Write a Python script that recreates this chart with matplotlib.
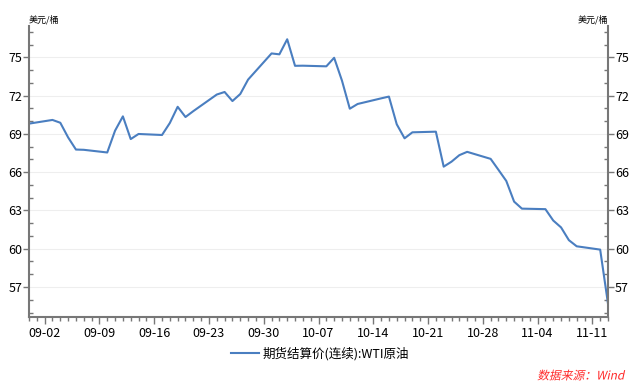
import pandas as pd
import numpy as np
import matplotlib
matplotlib.use("Agg")
import matplotlib.pyplot as plt
import matplotlib.dates as mdates
from matplotlib.patheffects import AbstractPathEffect
from matplotlib.transforms import Affine2D

plt.rcParams['font.family'] = ['Noto Sans CJK SC', 'DejaVu Sans']

# WTI settlement prices
dates = ["2018-08-31", "2018-09-03", "2018-09-04", "2018-09-05", "2018-09-06", "2018-09-07",
         "2018-09-10", "2018-09-11", "2018-09-12", "2018-09-13", "2018-09-14",
         "2018-09-17", "2018-09-18", "2018-09-19", "2018-09-20", "2018-09-21",
         "2018-09-24", "2018-09-25", "2018-09-26", "2018-09-27", "2018-09-28",
         "2018-10-01", "2018-10-02", "2018-10-03", "2018-10-04", "2018-10-05",
         "2018-10-08", "2018-10-09", "2018-10-10", "2018-10-11", "2018-10-12",
         "2018-10-15", "2018-10-16", "2018-10-17", "2018-10-18", "2018-10-19",
         "2018-10-22", "2018-10-23", "2018-10-24", "2018-10-25", "2018-10-26",
         "2018-10-29", "2018-10-30", "2018-10-31", "2018-11-01", "2018-11-02",
         "2018-11-05", "2018-11-06", "2018-11-07", "2018-11-08", "2018-11-09",
         "2018-11-12", "2018-11-13"]
prices = [69.80, 70.09, 69.87, 68.72, 67.77, 67.75,
          67.54, 69.25, 70.37, 68.59, 68.99,
          68.91, 69.85, 71.12, 70.32, 70.78,
          72.08, 72.28, 71.57, 72.12, 73.25,
          75.30, 75.23, 76.41, 74.33, 74.34,
          74.29, 74.96, 73.17, 70.97, 71.34,
          71.78, 71.92, 69.75, 68.65, 69.12,
          69.17, 66.43, 66.82, 67.33, 67.59,
          67.04, 66.18, 65.31, 63.69, 63.14,
          63.10, 62.21, 61.67, 60.67, 60.19,
          59.93, 55.69]
yticks = [57, 60, 63, 66, 69, 72, 75]
series_name = "期货结算价(连续):WTI原油"
unit = "美元/桶"
source = "数据来源：Wind"


class Slant(AbstractPathEffect):
    # fake italics for the CJK font, which has no italic face
    def __init__(self, angle=12):
        super().__init__()
        self.angle = angle

    def draw_path(self, renderer, gc, tpath, affine, rgbFace=None):
        x0, y0 = affine.transform((0, 0))
        sk = Affine2D().translate(-x0, -y0).skew_deg(self.angle, 0).translate(x0, y0)
        renderer.draw_path(gc, tpath, affine + sk, rgbFace)


x = pd.to_datetime(dates)

fig = plt.figure(figsize=(6.4, 3.83), dpi=100)
ax = fig.add_axes([29/640, 1 - 317/383, (608-29)/640, (317-26)/383])
line, = ax.plot(x, prices, color='#4a7ec0', lw=1.5)

ax.set_xlim(pd.Timestamp("2018-08-31"), pd.Timestamp("2018-11-13"))
ax.set_ylim(54.65, 77.45)

ax.xaxis.set_major_locator(mdates.WeekdayLocator(byweekday=mdates.SU))
ax.xaxis.set_minor_locator(mdates.DayLocator())
ax.xaxis.set_major_formatter(mdates.DateFormatter('%m-%d'))

ax.set_yticks(yticks)
ax.set_yticks(np.arange(55, 78, 1), minor=True)
ax.grid(axis='y', which='major', color='#eeeeee', lw=0.8)
ax.set_axisbelow(True)

ax.spines['top'].set_visible(False)
for s in ['left', 'right', 'bottom']:
    ax.spines[s].set_color('#777777')
    ax.spines[s].set_linewidth(1.5)

ax.tick_params(axis='x', which='major', direction='out', length=5, width=1, color='#777777',
               labelsize=9, pad=2.5)
ax.tick_params(axis='x', which='minor', direction='out', length=3, width=1, color='#777777')
ax.tick_params(axis='y', which='major', direction='out', length=4, width=1, color='#777777',
               labelsize=9, left=True, right=True, labelleft=True, labelright=True, pad=1)
ax.tick_params(axis='y', which='minor', direction='in', length=3, width=1, color='#777777',
               left=True, right=True)

fig.text(29/640, 1 - 24/383, unit, fontsize=6.5, ha='left', va='bottom')
fig.text(608/640, 1 - 24/383, unit, fontsize=6.5, ha='right', va='bottom')

fig.legend([line], [series_name], loc='center', bbox_to_anchor=(0.5, 1 - 354/383),
           frameon=False, fontsize=9, handlelength=2.2, handletextpad=0.3)

fig.text(624/640, 1 - 376/383, source, color='#ff2a2a', fontsize=8.5,
         ha='right', va='center', path_effects=[Slant(12)])

fig.savefig('out.png', dpi=100)
